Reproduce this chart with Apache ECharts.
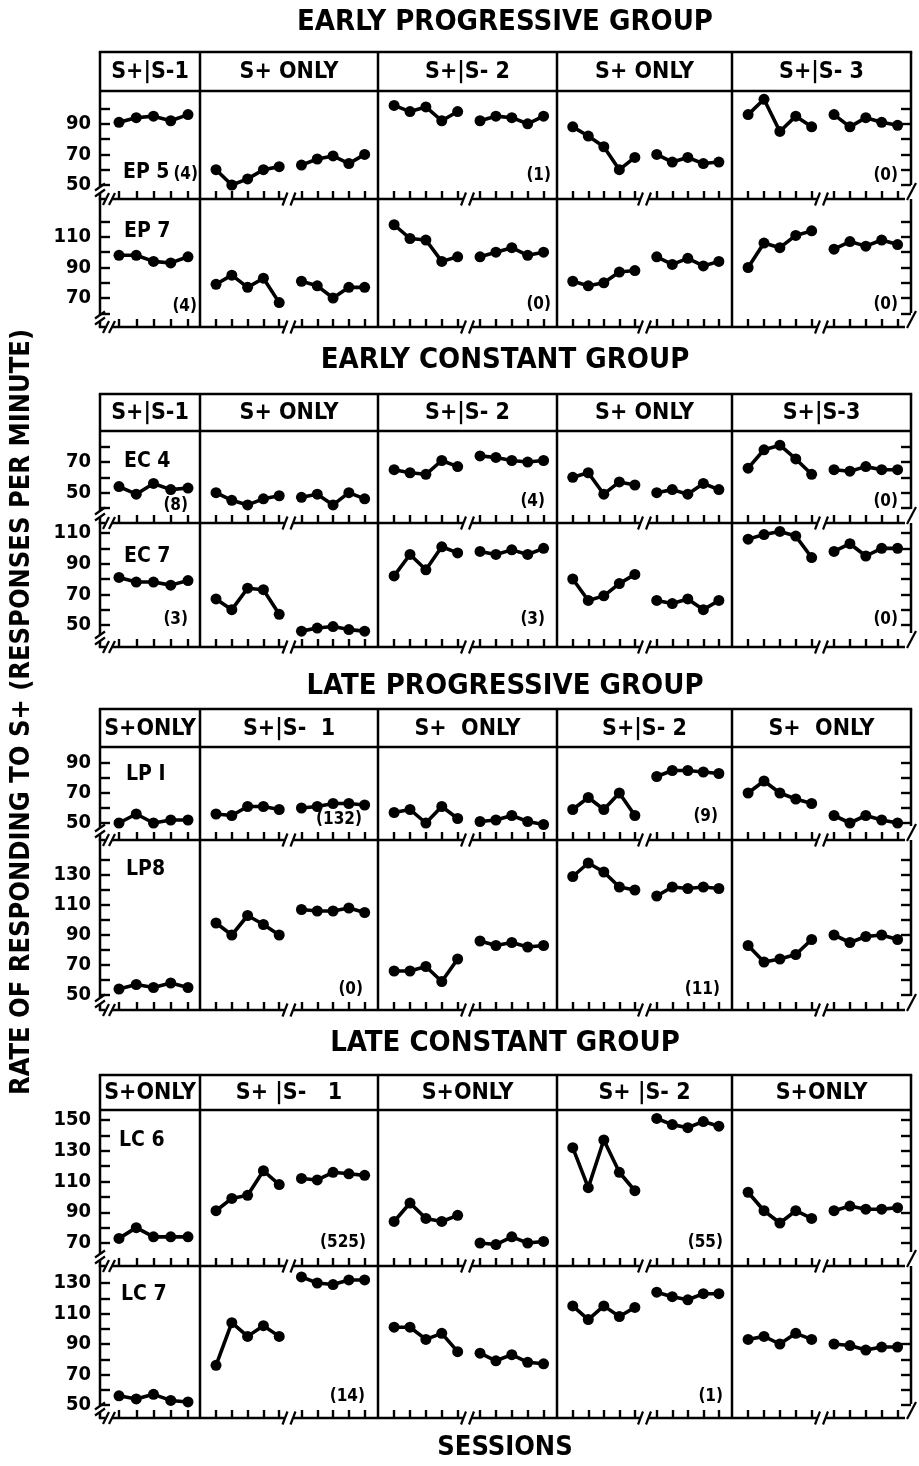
<!DOCTYPE html>
<html><head><meta charset="utf-8">
<script src="https://cdn.jsdelivr.net/npm/echarts@6/dist/echarts.min.js"></script>
<style>html,body{margin:0;padding:0;background:#fff}#c{width:919px;height:1466px}</style>
</head><body><div id="c"></div>
<script>
// ---------- DATA (rate of responding to S+, responses per minute) ----------
// each subject: 9 segments of 5 sessions: col0, then col1..col4 each with two segments
const SESSIONS = ['1','2','3','4','5'];
const EP5 = [[91,94,95,92,96],[60,50,54,60,62],[63,67,69,64,70],[102,98,101,92,98],[92,95,94,90,95],[88,82,75,60,68],[70,65,68,64,65],[96,106,85,95,88],[96,88,94,91,89]];
const EP7 = [[98,98,94,93,97],[79,85,77,83,67],[81,78,70,77,77],[118,109,108,94,97],[97,100,103,98,100],[81,78,80,87,88],[97,92,96,91,94],[90,106,103,111,114],[102,107,104,108,105]];
const EC4 = [[54,49,56,52,53],[50,45,42,46,48],[47,49,42,50,46],[65,63,62,71,67],[74,73,71,70,71],[60,63,49,57,55],[50,52,49,56,52],[66,78,81,72,62],[65,64,67,65,65]];
const EC7 = [[81,78,78,76,79],[67,60,74,73,57],[46,48,49,47,46],[82,96,86,101,97],[98,96,99,96,100],[80,66,69,77,83],[66,64,67,60,66],[106,109,111,108,94],[98,103,95,100,100]];
const LP1 = [[50,56,50,52,52],[56,55,61,61,59],[60,61,63,63,62],[57,59,50,61,53],[51,52,55,51,49],[59,67,59,70,55],[81,85,85,84,83],[70,78,70,66,63],[55,50,55,52,50]];
const LP8 = [[54,57,55,58,55],[98,90,103,97,90],[107,106,106,108,105],[66,66,69,59,74],[86,83,85,82,83],[129,138,132,122,120],[116,122,121,122,121],[83,72,74,77,87],[90,85,89,90,87]];
const LC6 = [[73,80,74,74,74],[91,99,101,117,108],[112,111,116,115,114],[84,96,86,84,88],[70,69,74,70,71],[132,106,137,116,104],[151,147,145,149,146],[103,91,83,91,86],[91,94,92,92,93]];
const LC7 = [[56,54,57,53,52],[76,104,95,102,95],[134,130,129,132,132],[101,101,93,97,85],[84,79,83,78,77],[115,106,115,108,114],[124,121,119,123,123],[93,95,90,97,93],[90,89,86,88,88]];

// tick labels
const EP5_YL = [50,70,90];
const EP7_YL = [70,90,110];
const EC4_YL = [50,70];
const EC7_YL = [50,70,90,110];
const LP1_YL = [50,70,90];
const LP8_YL = [50,70,90,110,130];
const LC6_YL = [70,90,110,130,150];
const LC7_YL = [50,70,90,110,130];

// column headers
const HEAD_EP = ['S+|S-1','S+ ONLY','S+|S- 2','S+ ONLY','S+|S- 3'];
const HEAD_EC = ['S+|S-1','S+ ONLY','S+|S- 2','S+ ONLY','S+|S-3'];
const HEAD_LP = ['S+ONLY','S+|S-  1','S+  ONLY','S+|S- 2','S+  ONLY'];
const HEAD_LC = ['S+ONLY','S+ |S-   1','S+ONLY','S+ |S- 2','S+ONLY'];

// ---------- LAYOUT ----------
const FONT = "'Liberation Sans Narrow','DejaVu Sans Condensed','Roboto Condensed','Liberation Sans',sans-serif";
const LX = 100, RX = 911;
const COLX = [100, 200, 378, 557, 732, 911];

const BLOCKS = [
 {title:'EARLY PROGRESSIVE GROUP', titleY:22, hTop:52, hBot:91, heads:HEAD_EP, rows:[
   {data:EP5, top:91, bot:199, min:50, max:100, pMin:185, pMax:108.5, yl:EP5_YL, name:'EP 5', nx:123, ny:173,
    counts:[['(4)',198,175],['(1)',551,176],['(0)',898,176]]},
   {data:EP7, top:199, bot:327, min:60, max:120, pMin:313.3, pMax:221.7, yl:EP7_YL, name:'EP 7', nx:124, ny:232,
    counts:[['(4)',197,307],['(0)',551,305],['(0)',898,305]]}]},
 {title:'EARLY CONSTANT GROUP', titleY:360, hTop:394, hBot:431, heads:HEAD_EC, rows:[
   {data:EC4, top:431, bot:523, min:40, max:80, pMin:508, pMax:446.7, yl:EC4_YL, name:'EC 4', nx:124, ny:462,
    counts:[['(8)',188,506],['(4)',545,502],['(0)',898,502]]},
   {data:EC7, top:523, bot:647, min:50, max:110, pMin:625, pMax:533, yl:EC7_YL, name:'EC 7', nx:124, ny:557,
    counts:[['(3)',188,620],['(3)',545,620],['(0)',898,620]]}]},
 {title:'LATE PROGRESSIVE GROUP', titleY:686, hTop:709, hBot:747, heads:HEAD_LP, rows:[
   {data:LP1, top:747, bot:840, min:50, max:90, pMin:823, pMax:763, yl:LP1_YL, name:'LP I', nx:126, ny:775,
    counts:[['(132)',362,820],['(9)',718,817]]},
   {data:LP8, top:840, bot:1010, min:50, max:140, pMin:995, pMax:860, yl:LP8_YL, name:'LP8', nx:126, ny:870,
    counts:[['(0)',363,990],['(11)',720,990]]}]},
 {title:'LATE CONSTANT GROUP', titleY:1043, hTop:1075, hBot:1110, heads:HEAD_LC, rows:[
   {data:LC6, top:1110, bot:1266, min:70, max:150, pMin:1243, pMax:1120, yl:LC6_YL, name:'LC 6', nx:119, ny:1141,
    counts:[['(525)',366,1243],['(55)',723,1243]]},
   {data:LC7, top:1266, bot:1418, min:50, max:130, pMin:1405, pMax:1283, yl:LC7_YL, name:'LC 7', nx:121, ny:1295,
    counts:[['(14)',365,1397],['(1)',723,1397]]}]}
];

function segRanges(){
  const r = [];
  const w0 = COLX[1]-COLX[0];
  r.push([COLX[0]+0.19*w0, COLX[0]+0.88*w0]);
  for (let c=1;c<=4;c++){
    const w = COLX[c+1]-COLX[c];
    r.push([COLX[c]+0.09*w, COLX[c]+0.445*w]);
    r.push([COLX[c]+0.57*w, COLX[c]+0.925*w]);
  }
  return r;
}
const SEGS = segRanges();
const BREAKS = [1,2,3,4].map(c => COLX[c] + 0.5*(COLX[c+1]-COLX[c]));

// ---------- BUILD ----------
const G = [];
const LW = 2.5;
function ln(x1,y1,x2,y2,w){ G.push({type:'line',silent:true,z:5,shape:{x1:x1,y1:y1,x2:x2,y2:y2},style:{stroke:'#000',lineWidth:w||LW,lineCap:'butt'}}); }
function tx(x,y,text,size,align,rot){
  const o = {type:'text',silent:true,z:10,x:x,y:y,style:{text:text,fill:'#000',font:'bold '+size+'px '+FONT,align:align||'center',verticalAlign:'middle'}};
  if (rot) o.rotation = rot;
  G.push(o);
}
function slash(cx,cy,dx,dy){ ln(cx-dx,cy+dy,cx+dx,cy-dy,2.2); }

const grids=[], xAxes=[], yAxes=[], series=[];

BLOCKS.forEach(b => {
  tx(505, b.titleY, b.title, 29);
  const r2Bot = b.rows[1].bot;
  // header frame
  ln(LX-1.2, b.hTop, RX+1.2, b.hTop);
  ln(LX, b.hBot, RX, b.hBot);
  ln(LX, b.hTop, LX, b.hBot);
  ln(RX, b.hTop, RX, b.hBot);
  for (let c=1;c<=4;c++) ln(COLX[c], b.hTop, COLX[c], r2Bot);
  b.heads.forEach((h,c) => tx((COLX[c]+COLX[c+1])/2, (b.hTop+b.hBot)/2+1, h, 23));

  b.rows.forEach(r => {
    const bot = r.bot, top = r.top;
    // left axis with break
    ln(LX, top, LX, bot-12);
    ln(LX, bot-6, LX, bot);
    slash(LX, bot-12, 5, 3.5); slash(LX, bot-6, 5, 3.5);
    // bottom axis with breaks
    let x0 = LX - 1.2;
    ln(x0, bot, LX+5, bot);
    slash(LX+6, bot, 3, 6); slash(LX+12, bot, 3, 6);
    x0 = LX+12;
    BREAKS.forEach(bx => { ln(x0, bot, bx-4, bot); slash(bx-4, bot, 2.5, 6.5); slash(bx+4, bot, 2.5, 6.5); x0 = bx+4; });
    ln(x0, bot, RX-6, bot);
    // right axis with break
    ln(RX, top, RX, bot-14);
    ln(RX-4, bot+1, RX+5, bot-16, 2.2);
    // labels
    tx(r.nx, r.ny, r.name, 21, 'left');
    r.counts.forEach(cn => tx(cn[1], cn[2], cn[0], 17, 'right'));

    SEGS.forEach((s,si) => {
      const gi = grids.length;
      grids.push({left:s[0], top:r.pMax, width:s[1]-s[0], height:r.pMin-r.pMax, outerBoundsMode:'none', containLabel:false, show:false});
      xAxes.push({gridIndex:gi, type:'category', data:SESSIONS, boundaryGap:false, position:'bottom',
        offset: bot - r.pMin,
        axisLine:{show:false}, axisLabel:{show:false, interval:0}, splitLine:{show:false},
        axisTick:{show:true, inside:true, length:8, interval:0, lineStyle:{color:'#000', width:2.4}}});
      const yi = yAxes.length;
      if (si === 0) {
        yAxes.push({gridIndex:gi, type:'value', min:r.min, max:r.max, interval:10, position:'left',
          offset: s[0]-LX, axisLine:{show:false}, splitLine:{show:false},
          axisTick:{show:true, inside:true, length:10, lineStyle:{color:'#000', width:2.4}},
          axisLabel:{show:true, margin:9, color:'#000', fontWeight:'bold', fontSize:20, fontFamily:FONT,
            showMinLabel:true, showMaxLabel:true, hideOverlap:false,
            formatter: v => (r.yl.indexOf(v) >= 0 ? String(v) : '')}});
      } else {
        yAxes.push({gridIndex:gi, type:'value', min:r.min, max:r.max, interval:10, show:false});
      }
      if (si === SEGS.length-1) {
        yAxes.push({gridIndex:gi, type:'value', min:r.min, max:r.max, interval:10, position:'right',
          offset: RX - s[1], axisLine:{show:false}, splitLine:{show:false}, axisLabel:{show:false},
          axisTick:{show:true, inside:true, length:10, lineStyle:{color:'#000', width:2.4}}});
      }
      series.push({type:'line', xAxisIndex:gi, yAxisIndex:yi, data:r.data[si], clip:false,
        symbol:'circle', symbolSize:11, showSymbol:true, showAllSymbol:true,
        lineStyle:{color:'#000', width:3.6}, itemStyle:{color:'#000', borderWidth:0, opacity:1},
        emphasis:{disabled:true}, z:8});
    });
  });
});

// axis titles
tx(22, 712, 'RATE OF RESPONDING TO S+ (RESPONSES PER MINUTE)', 27, 'center', Math.PI/2);
tx(505, 1448, 'SESSIONS', 27);

const chart = echarts.init(document.getElementById('c'), null, {renderer:'canvas'});
chart.setOption({
  animation:false,
  backgroundColor:'#fff',
  tooltip:{show:false},
  grid:grids, xAxis:xAxes, yAxis:yAxes, series:series,
  graphic:G
});
</script>
</body></html>
